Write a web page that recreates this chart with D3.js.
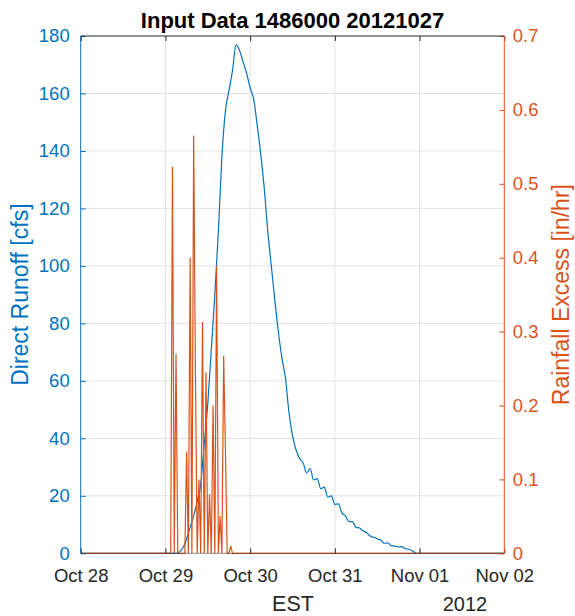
<!DOCTYPE html>
<html><head><meta charset="utf-8">
<script src="https://cdn.jsdelivr.net/npm/d3@7"></script>
<style>body{margin:0;background:#fff}svg{display:block}text{font-family:"Liberation Sans",Arial,sans-serif}</style>
</head><body>
<svg id="c" width="575" height="616"></svg>
<script>
// ---------------- data ----------------
const titleText = "Input Data 1486000 20121027";
const xTickDates = ["2012-10-28", "2012-10-29", "2012-10-30", "2012-10-31", "2012-11-01", "2012-11-02"];
const xTickLabels = ["Oct 28", "Oct 29", "Oct 30", "Oct 31", "Nov 01", "Nov 02"];
const leftTicks = [0, 20, 40, 60, 80, 100, 120, 140, 160, 180];
const rightTicks = [0, 0.1, 0.2, 0.3, 0.4, 0.5, 0.6, 0.7];
const rightTickLabels = ["0", "0.1", "0.2", "0.3", "0.4", "0.5", "0.6", "0.7"];
const xAxisLabel = "EST";
const yearLabel = "2012";
const leftLabel = "Direct Runoff [cfs]";
const rightLabel = "Rainfall Excess [in/hr]";

// Direct runoff, hourly from 2012-10-29 00:00 (zero before and after)
const runoffStart = "2012-10-29 00:00";
const runoffStepHours = 1;
const runoffCfs = [
  0, 0, 0, 0, 0.5, 2, 5, 9, 13, 18,
  24, 38, 52, 71, 90, 112, 138, 154, 161, 168,
  177, 175, 171, 167, 162, 158, 149, 139, 127, 112,
  100, 88, 77, 68, 61, 49, 41, 36, 33, 31.5,
  28, 29.5, 25.5, 26, 22.5, 23, 19.5, 20, 17, 17.2,
  14, 13, 11, 11, 9, 8.8, 7.8, 7.2, 6, 5.6,
  5, 4.6, 3.5, 3.6, 2.6, 2.5, 2.2, 2.3, 1.6, 1.4,
  0.8, 0
];

// Rainfall excess, half-hourly from 2012-10-29 00:00 (zero before and after)
const rainStart = "2012-10-29 00:00";
const rainStepHours = 0.5;
const rainInHr = [
  0, 0, 0, 0, 0.523, 0, 0.27, 0, 0, 0,
  0, 0, 0.137, 0, 0.40, 0, 0.565, 0.245, 0, 0.10,
  0, 0.313, 0, 0.245, 0, 0.08, 0, 0.20, 0, 0.389,
  0, 0.05, 0, 0.267, 0.14, 0, 0, 0.01, 0, 0
];

// ---------------- layout ----------------
const L = 80.7, R = 504.3, T = 36, B = 553.3;
const BLUE = "#0072BD", ORANGE = "#D95319", DARK = "#262626", GRID = "#e1e1e1";
const TICK_FS = 18.5, LABEL_FS = 23, TITLE_FS = 22;

const parseDay = d3.timeParse("%Y-%m-%d");
const parseTime = d3.timeParse("%Y-%m-%d %H:%M");
const tickDates = xTickDates.map(parseDay);
const domainStart = tickDates[0], domainEnd = tickDates[tickDates.length - 1];

const x = d3.scaleTime().domain([domainStart, domainEnd]).range([L, R]);
const yL = d3.scaleLinear().domain([0, 180]).range([B, T]);
const yR = d3.scaleLinear().domain([0, 0.7]).range([B, T]);

function buildSeries(startStr, stepH, vals) {
  const s = parseTime(startStr);
  const pts = [{t: domainStart, v: 0}];
  vals.forEach((v, i) => pts.push({t: new Date(+s + i * stepH * 3600e3), v}));
  pts.push({t: domainEnd, v: 0});
  return pts;
}
const runoff = buildSeries(runoffStart, runoffStepHours, runoffCfs);
const rain = buildSeries(rainStart, rainStepHours, rainInHr);

const svg = d3.select("#c");
svg.append("rect").attr("width", 575).attr("height", 616).attr("fill", "#fff");
svg.append("defs").append("clipPath").attr("id", "clip")
  .append("rect").attr("x", L).attr("y", T - 1).attr("width", R - L).attr("height", B - T + 2);

// grid
const grid = svg.append("g");
grid.selectAll("line.v").data(tickDates.slice(1, -1)).join("line")
  .attr("x1", d => x(d)).attr("x2", d => x(d)).attr("y1", T).attr("y2", B)
  .attr("stroke", GRID).attr("stroke-width", 1);
grid.selectAll("line.h").data(leftTicks.slice(1, -1)).join("line")
  .attr("x1", L).attr("x2", R).attr("y1", d => yL(d)).attr("y2", d => yL(d))
  .attr("stroke", GRID).attr("stroke-width", 1);

// lines
const plot = svg.append("g").attr("clip-path", "url(#clip)");
plot.append("path").datum(runoff)
  .attr("d", d3.line().curve(d3.curveMonotoneX).x(d => x(d.t)).y(d => yL(d.v)))
  .attr("fill", "none").attr("stroke", BLUE).attr("stroke-width", 1.2);
plot.append("path").datum(rain)
  .attr("d", d3.line().x(d => x(d.t)).y(d => yR(d.v)))
  .attr("fill", "none").attr("stroke", ORANGE).attr("stroke-width", 1.2);

// axes
function styleAxis(g, color) {
  g.select(".domain").remove();
  g.selectAll(".tick line").attr("stroke", color);
  g.selectAll(".tick text").attr("fill", color).style("font-size", TICK_FS + "px")
    .style("font-family", '"Liberation Sans", Arial, sans-serif');
}
const gB = svg.append("g").attr("transform", `translate(0,${B})`)
  .call(d3.axisBottom(x).tickValues(tickDates).tickFormat((d, i) => xTickLabels[i])
    .tickSizeInner(-5).tickSizeOuter(0).tickPadding(15.5));
styleAxis(gB, DARK);
const gT = svg.append("g").attr("transform", `translate(0,${T})`)
  .call(d3.axisTop(x).tickValues(tickDates).tickFormat("").tickSizeInner(-5).tickSizeOuter(0));
styleAxis(gT, DARK);
const gL = svg.append("g").attr("transform", `translate(${L},0)`)
  .call(d3.axisLeft(yL).tickValues(leftTicks).tickFormat(d3.format("d"))
    .tickSizeInner(-5).tickSizeOuter(0).tickPadding(11));
styleAxis(gL, BLUE);
const gR = svg.append("g").attr("transform", `translate(${R},0)`)
  .call(d3.axisRight(yR).tickValues(rightTicks).tickFormat((d, i) => rightTickLabels[i])
    .tickSizeInner(-5).tickSizeOuter(0).tickPadding(8.5));
styleAxis(gR, ORANGE);

// box lines
svg.append("line").attr("x1", L).attr("x2", R).attr("y1", T).attr("y2", T).attr("stroke", DARK);
svg.append("line").attr("x1", L).attr("x2", R).attr("y1", B).attr("y2", B).attr("stroke", DARK).attr("stroke-opacity", 0.5);
svg.append("line").attr("x1", L).attr("x2", L).attr("y1", T).attr("y2", B).attr("stroke", BLUE);
svg.append("line").attr("x1", R).attr("x2", R).attr("y1", T).attr("y2", B).attr("stroke", ORANGE);

// texts
svg.append("text").attr("x", (L + R) / 2).attr("y", 28).attr("text-anchor", "middle")
  .attr("font-weight", "bold").attr("font-size", TITLE_FS).attr("fill", "#000").text(titleText);
svg.append("text").attr("x", 293).attr("y", 611).attr("text-anchor", "middle")
  .attr("font-size", 21.5).attr("fill", DARK).text(xAxisLabel);
svg.append("text").attr("x", 465).attr("y", 611).attr("text-anchor", "middle")
  .attr("font-size", 20).attr("fill", DARK).text(yearLabel);
svg.append("text").attr("transform", `translate(28,${(T + B) / 2}) rotate(-90)`)
  .attr("text-anchor", "middle").attr("font-size", LABEL_FS).attr("fill", BLUE).text(leftLabel);
svg.append("text").attr("transform", `translate(569,${(T + B) / 2}) rotate(-90)`)
  .attr("text-anchor", "middle").attr("font-size", LABEL_FS).attr("fill", ORANGE).text(rightLabel);
</script>
</body></html>
